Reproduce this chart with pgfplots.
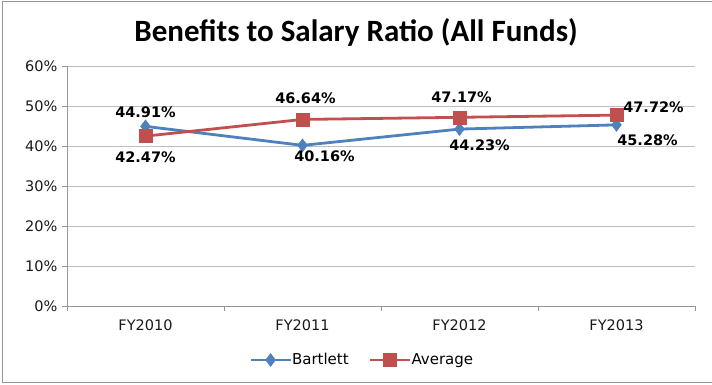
\documentclass[border=0pt]{standalone}
\usepackage{pgfplots}
\pgfplotsset{compat=1.18}
\usepackage{fontspec}
\setmainfont{DejaVu Sans}
\newfontfamily\titlefont{Carlito}
\definecolor{barblue}{HTML}{4F81BD}
\definecolor{avgred}{HTML}{C0504D}
\definecolor{gridgray}{RGB}{190,190,190}
\definecolor{axgray}{RGB}{150,150,150}

\pgfplotstableread{
x y dx dy
0 44.91 0 14
1 40.16 22 -11
2 44.23 20 -16
3 45.28 31 -15
}\bartlett
\pgfplotstableread{
x y dx dy
0 42.47 0 -21
1 46.64 3 21
2 47.17 2 20
3 47.72 37 8
}\average

\begin{document}
\begin{tikzpicture}
\useasboundingbox (-67pt,-79pt) rectangle ++(712pt,385pt);
\draw[axgray,line width=1pt] (645pt,304pt) -- (-64pt,304pt) -- (-64pt,-77pt) -- (645pt,-77pt);
\node[font=\titlefont\bfseries\fontsize{31}{34}\selectfont] at (289pt,274pt) {Benefits to Salary Ratio (All Funds)};
\begin{axis}[
  scale only axis,
  width=628pt, height=240pt,
  xmin=-0.5, xmax=3.5,
  ymin=0, ymax=60,
  axis x line*=bottom,
  axis y line*=left,
  axis line style={axgray, line width=0.8pt},
  xtick={0,1,2,3},
  xticklabels={FY2010,FY2011,FY2012,FY2013},
  minor xtick={-0.5,0.5,1.5,2.5,3.5},
  major x tick style={draw=none},
  minor tick length=5pt,
  major tick length=5pt,
  tick align=outside,
  tick style={axgray, line width=0.8pt},
  ytick={0,10,...,60},
  yticklabel={\pgfmathprintnumber{\tick}\%},
  ymajorgrids,
  grid style={gridgray, line width=0.8pt},
  /pgf/number format/assume math mode=true,
  ticklabel style={font=\fontsize{14.5}{16}\selectfont, text=black!90},
  xticklabel style={yshift=-5pt},
  yticklabel style={xshift=-1pt},
  legend style={at={(0.47,-0.225)}, anchor=center, draw=none, fill=none,
    legend columns=-1, font=\fontsize{15}{17}\selectfont,
    /tikz/every even column/.append style={column sep=18pt},
    /tikz/every odd column/.append style={column sep=-2pt}},
  legend image code/.code={
    \draw[#1, mark repeat=2, mark phase=2] plot coordinates {(0pt,0pt) (20pt,0pt) (40pt,0pt)};
  },
  nodes near coords={\pgfmathprintnumber[fixed,precision=2,fixed zerofill]{\pgfplotspointmeta}\%},
  every node near coord/.append style={text=black, font=\bfseries\fontsize{14.5}{16}\selectfont, anchor=center, xshift=\dx pt, yshift=\dy pt},
  clip=false,
]
\addplot[barblue, line width=2.8pt, mark=diamond*, mark size=6.5pt,
  mark options={line width=0.5pt},
  visualization depends on={\thisrow{dx} \as \dx},
  visualization depends on={\thisrow{dy} \as \dy},
  point meta=explicit] table[x=x, y=y, meta=y] {\bartlett};
\addlegendentry{Bartlett}
\addplot[avgred, line width=2.8pt, mark=square*, mark size=6.5pt,
  mark options={line width=0.5pt},
  visualization depends on={\thisrow{dx} \as \dx},
  visualization depends on={\thisrow{dy} \as \dy},
  point meta=explicit] table[x=x, y=y, meta=y] {\average};
\addlegendentry{Average}
\end{axis}
\end{tikzpicture}
\end{document}
